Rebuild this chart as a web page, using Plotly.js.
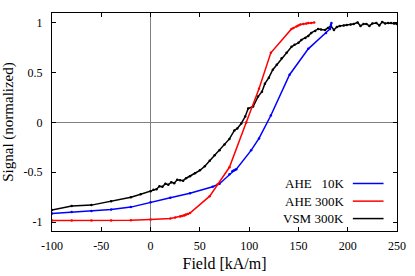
<!DOCTYPE html>
<html>
<head>
<meta charset="utf-8">
<script src="https://cdn.plot.ly/plotly-3.0.1.min.js"></script>
<style>html,body{margin:0;padding:0;background:#fff;}#chart{width:415px;height:276px;}</style>
</head>
<body>
<div id="chart"></div>
<script>
// AHE 10K
var ahe10X = [-100, -80, -60, -40, -20, 0, 20, 40, 63, 70, 80, 83, 84, 85, 86, 87, 102, 110, 122, 141, 160, 178, 182, 183, 183.5];
var ahe10Y = [-0.915, -0.90, -0.89, -0.875, -0.85, -0.80, -0.755, -0.71, -0.645, -0.615, -0.52, -0.49, -0.485, -0.48, -0.475, -0.47, -0.28, -0.16, 0.07, 0.48, 0.74, 0.90, 0.94, 0.98, 1.0];
// AHE 300K
var ahe300X = [-100, -80, -60, -40, -20, 0, 20, 25, 30, 32, 34, 35, 36, 38, 40, 60, 68, 80, 97, 110, 122, 143, 145, 148, 150, 152, 155, 158, 160, 163, 166];
var ahe300Y = [-0.985, -0.985, -0.985, -0.985, -0.983, -0.975, -0.965, -0.955, -0.945, -0.94, -0.935, -0.93, -0.925, -0.92, -0.91, -0.74, -0.62, -0.45, 0.0, 0.34, 0.70, 0.94, 0.95, 0.965, 0.975, 0.985, 0.99, 0.995, 1.0, 1.0, 1.005];
// VSM 300K
var vsmX = [-100, -80, -60, -40, -20, -10, 0, 3, 6, 9, 12, 15, 18, 21, 24, 27, 30, 33, 36, 40, 45, 50, 55, 60, 65, 70, 75, 80, 85, 88, 92, 96, 99, 104, 109, 113, 116, 120, 124, 128, 133, 138, 143, 146, 150, 153, 157, 160, 163, 167, 170, 173, 177, 180, 183, 186, 189, 192, 196, 199, 203, 206, 210, 213, 216, 219, 222, 225, 229, 232, 235, 238, 241, 244, 247, 250];
var vsmY = [-0.88, -0.84, -0.83, -0.79, -0.75, -0.72, -0.69, -0.675, -0.67, -0.64, -0.645, -0.615, -0.625, -0.60, -0.61, -0.575, -0.58, -0.585, -0.56, -0.54, -0.51, -0.48, -0.44, -0.385, -0.33, -0.28, -0.22, -0.165, -0.08, -0.06, -0.01, 0.06, 0.14, 0.16, 0.26, 0.31, 0.39, 0.45, 0.53, 0.58, 0.645, 0.70, 0.76, 0.78, 0.80, 0.83, 0.85, 0.87, 0.90, 0.92, 0.94, 0.935, 0.93, 0.95, 0.97, 0.93, 0.96, 0.97, 0.975, 0.98, 0.985, 0.99, 1.005, 0.97, 0.99, 0.99, 0.97, 0.995, 1.0, 0.975, 1.01, 0.995, 1.0, 1.0, 0.995, 0.99];

var xTickVals = [-100, -50, 0, 50, 100, 150, 200, 250];
var xTickText = ['-100', '-50', '0', '50', '100', '150', '200', '250'];
var yTickVals = [-1, -0.5, 0, 0.5, 1];
var yTickText = ['-1', '-0.5', '0', '0.5', '1'];

var seriesNames = ['AHE\u00a0\u00a0\u00a010K', 'AHE 300K', 'VSM 300K'];
var seriesColors = ['#0000ff', '#ff0000', '#000000'];

var FONT = "'Liberation Serif', 'Times New Roman', serif";

function tr(x, y, c) {
  return {x: x, y: y, type: 'scatter', mode: 'lines+markers',
    line: {color: c, width: 1.5}, marker: {color: c, size: 2.5}, showlegend: false, hoverinfo: 'skip'};
}
var data = [tr(vsmX, vsmY, seriesColors[2]), tr(ahe10X, ahe10Y, seriesColors[0]), tr(ahe300X, ahe300Y, seriesColors[1])];

var legY = [0.218, 0.137, 0.057];
var annotations = [], shapes = [];
for (var i = 0; i < 3; i++) {
  annotations.push({xref: 'paper', yref: 'paper', x: 0.851, y: legY[i], xanchor: 'right', yanchor: 'middle',
    text: seriesNames[i], showarrow: false, font: {family: FONT, size: 13, color: '#000'}});
  shapes.push({type: 'line', xref: 'paper', yref: 'paper', x0: 0.872, x1: 0.961, y0: legY[i], y1: legY[i],
    line: {color: seriesColors[i], width: 1.5}});
}

var axisCommon = {
  showgrid: false, showline: true, linecolor: '#000', linewidth: 1, mirror: 'ticks',
  ticks: 'inside', ticklen: 4, tickcolor: '#000', tickwidth: 1,
  zeroline: true, zerolinecolor: '#808080', zerolinewidth: 1,
  tickfont: {family: FONT, size: 12, color: '#000'}, tickmode: 'array'
};

var layout = {
  width: 415, height: 276,
  margin: {l: 52, r: 18, t: 13, b: 45},
  paper_bgcolor: '#fff', plot_bgcolor: '#fff',
  font: {family: FONT, color: '#000'},
  xaxis: Object.assign({}, axisCommon, {range: [-100, 250], tickvals: xTickVals, ticktext: xTickText,
    ticklabelstandoff: 4,
    title: {text: 'Field [kA/m]', font: {family: FONT, size: 16, color: '#000'}, standoff: 5}}),
  yaxis: Object.assign({}, axisCommon, {range: [-1.09, 1.10], tickvals: yTickVals, ticktext: yTickText,
    ticklabelstandoff: 6,
    title: {text: 'Signal (normalized)', font: {family: FONT, size: 15, color: '#000'}, standoff: 6}}),
  annotations: annotations,
  shapes: shapes,
  showlegend: false
};

Plotly.newPlot('chart', data, layout, {displayModeBar: false, staticPlot: true});
</script>
</body>
</html>
